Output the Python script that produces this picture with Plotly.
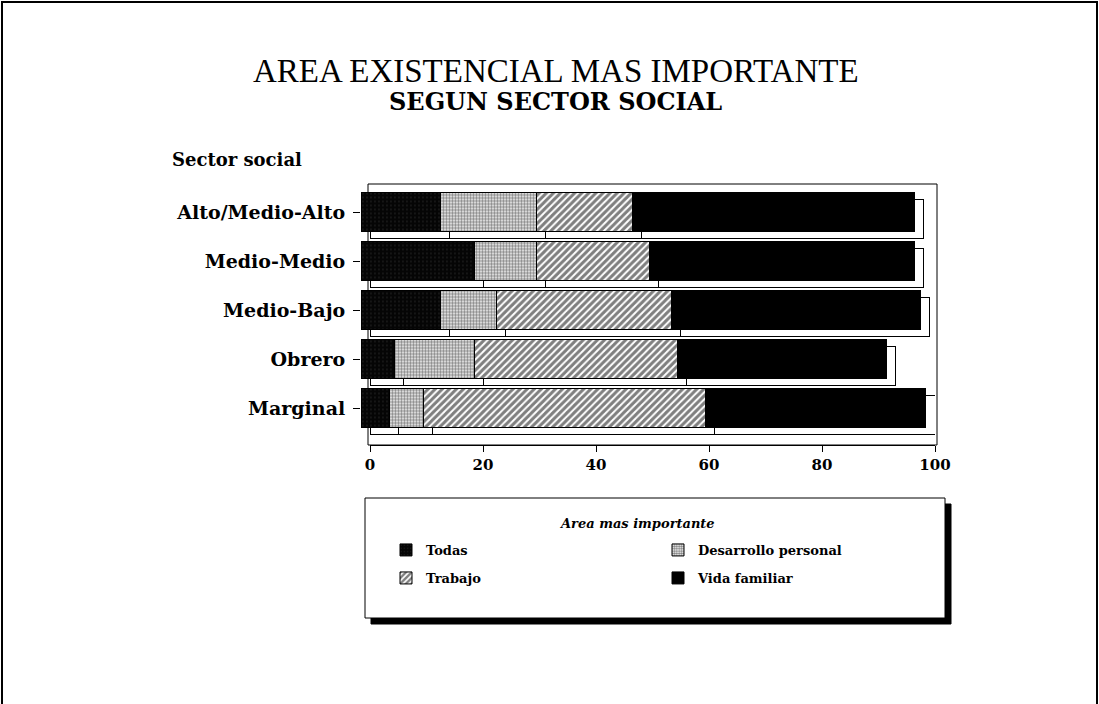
import plotly.graph_objects as go

categories = ["Alto/Medio-Alto", "Medio-Medio", "Medio-Bajo", "Obrero", "Marginal"]
todas = [14, 20, 14, 6, 5]
desarrollo = [17, 11, 10, 14, 6]
trabajo = [17, 20, 31, 36, 50]
vida = [50, 47, 44, 37, 39]
tick_vals = [0, 20, 40, 60, 80, 100]

SERIF = "Liberation Serif"
WIDE = "DejaVu Serif"

series = [
    ("Todas", todas, "legend",
     dict(color="black", pattern=dict(shape=".", bgcolor="#050505", fgcolor="#555", size=4, solidity=0.1))),
    ("Desarrollo personal", desarrollo, "legend",
     dict(color="white", pattern=dict(shape=".", bgcolor="white", fgcolor="black", size=3, solidity=0.6))),
    ("Trabajo", trabajo, "legend2",
     dict(color="white", pattern=dict(shape="/", bgcolor="white", fgcolor="black", size=5, solidity=0.6))),
    ("Vida familiar", vida, "legend2", dict(color="black")),
]

fig = go.Figure()

# depth (back) slabs
for name, vals, lg, mk in series:
    fig.add_trace(go.Bar(
        y=categories, x=vals, orientation="h", xaxis="x", yaxis="y",
        marker=dict(color="white", line=dict(color="black", width=1)),
        width=0.8, showlegend=False, hoverinfo="skip",
    ))

# front faces
for name, vals, lg, mk in series:
    m = dict(mk)
    m["line"] = dict(color="black", width=1)
    fig.add_trace(go.Bar(
        y=categories, x=vals, orientation="h", xaxis="x2", yaxis="y2",
        name=name, marker=m, width=0.8, legend=lg,
    ))

L0, T0 = 361.0, 184.0
PW, PH = 574.0, 261.0


def px(x):
    return (x - L0) / PW


def py(y):
    return (T0 + PH - y) / PH


legend_common = dict(orientation="h", xanchor="left", yanchor="middle",
                     entrywidth=227, entrywidthmode="pixels", traceorder="normal",
                     bgcolor="rgba(0,0,0,0)", borderwidth=0,
                     font=dict(family=WIDE, size=13, color="black", weight="bold"))

fig.update_layout(
    width=1099, height=704,
    margin=dict(l=361, r=164, t=184, b=259),
    paper_bgcolor="white", plot_bgcolor="rgba(0,0,0,0)",
    barmode="stack",
    showlegend=True,
    xaxis=dict(domain=[9 / PW, 1], range=[0, 100], anchor="free", position=0,
               tickvals=tick_vals, ticks="outside", ticklen=6, tickcolor="black",
               showline=True, linecolor="black", showgrid=False, zeroline=False,
               tickfont=dict(family=WIDE, size=15, color="black", weight="bold")),
    yaxis=dict(domain=[5.5 / PH, 250.5 / PH], range=[4.5, -0.5], anchor="x",
               visible=False),
    xaxis2=dict(domain=[0, 565 / PW], range=[0, 100], anchor="y2", visible=False),
    yaxis2=dict(domain=[12.5 / PH, 257.5 / PH], range=[4.5, -0.5], anchor="x2",
                ticks="outside", ticklen=7, tickcolor="black", showgrid=False,
                zeroline=False, showline=False, ticklabelstandoff=4,
                tickfont=dict(family=WIDE, size=19, color="black", weight="bold")),
    legend=dict(legend_common, x=px(386), y=py(550)),
    legend2=dict(legend_common, x=px(386), y=py(578)),
    annotations=[
        dict(text="AREA EXISTENCIAL MAS IMPORTANTE", xref="paper", yref="paper",
             x=px(556), y=py(71), xanchor="center", yanchor="middle",
             showarrow=False, font=dict(family=SERIF, size=33, color="black")),
        dict(text="SEGUN SECTOR SOCIAL", xref="paper", yref="paper",
             x=px(555), y=py(101), xanchor="center", yanchor="middle",
             showarrow=False, font=dict(family=WIDE, size=24, color="black", weight="bold")),
        dict(text="Sector social", xref="paper", yref="paper",
             x=px(170), y=py(160), xanchor="left", yanchor="middle",
             showarrow=False, font=dict(family=WIDE, size=18, color="black", weight="bold")),
        dict(text="Area mas importante", xref="paper", yref="paper",
             x=px(637), y=py(523), xanchor="center", yanchor="middle",
             showarrow=False,
             font=dict(family=WIDE, size=13, color="black", weight="bold", style="italic")),
    ],
    shapes=[
        # back-plane frame
        dict(type="rect", xref="paper", yref="paper", x0=px(368), x1=px(937), y0=0, y1=1,
             line=dict(color="black", width=1), layer="below"),
        # legend box shadow and box
        dict(type="rect", xref="paper", yref="paper", x0=px(371), x1=px(951),
             y0=py(624), y1=py(504), fillcolor="black", line=dict(color="black", width=1)),
        dict(type="rect", xref="paper", yref="paper", x0=px(365), x1=px(945),
             y0=py(618), y1=py(498), fillcolor="white", line=dict(color="black", width=1)),
        # page border
        dict(type="rect", xref="paper", yref="paper", x0=px(2), x1=px(1097),
             y0=py(760), y1=py(2), line=dict(color="black", width=2)),
    ],
)

fig.write_html("out.html", config={"displayModeBar": False},
               post_script="document.body.style.margin='0px';document.body.style.overflow='hidden';")
